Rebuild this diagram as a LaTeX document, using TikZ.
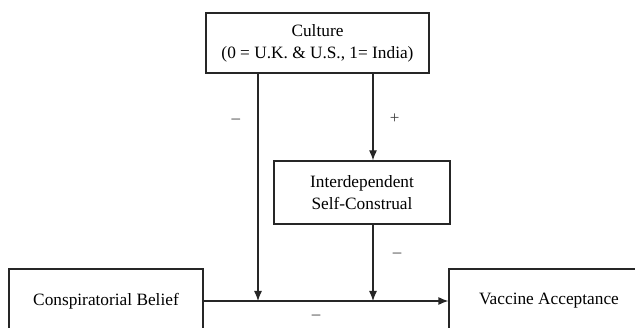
\documentclass[tikz,border=0pt]{standalone}
\usepackage{fontspec}
\setmainfont{Liberation Serif}
\usetikzlibrary{positioning,arrows.meta}
\tikzset{node distance=2cm, auto, x=1pt, y=1pt,
  >={Latex[length=10pt,width=8pt]},
  varbox/.style={draw=black!85, line width=1.2pt, inner sep=0pt, align=center,
    font=\fontsize{17.3}{22}\selectfont},
  path/.style={->, draw=black!85, line width=1.2pt},
  sign/.style={font=\fontsize{17}{20}\selectfont, text=black!75}}

\begin{document}
\begin{tikzpicture}
\useasboundingbox (0,0) rectangle (635,-328);
\node (culture) [varbox, minimum width=223pt, minimum height=60pt] at (317.5,-43) {Culture\\(0 = U.K. \& U.S., 1= India)};
\node (isc) [varbox, minimum width=176pt, minimum height=63pt, below of=culture, node distance=149.5pt, xshift=44.5pt] {Interdependent\\Self-Construal};
\node (belief) [varbox, minimum width=194pt, minimum height=64pt] at (106,-301) {Conspiratorial Belief};
\node (accept) [varbox, minimum width=200pt, minimum height=64pt, right of=belief, node distance=443pt] {Vaccine Acceptance};
\coordinate (cl) at ([xshift=-59.5pt]culture.south);
\coordinate (cr) at ([xshift=55.5pt]culture.south);
\draw[path] (belief) to node[sign, pos=.46, below=10pt] {–} (accept);
\draw[path] (cl) to node[sign, pos=.21, left=14pt] {–} (cl |- belief.east);
\draw[path] (cr) to node[sign, pos=.52, right=13pt] {+} (cr |- isc.north);
\draw[path] (cr |- isc.south) to node[sign, pos=.40, right=16pt] {–} (cr |- belief.east);
\end{tikzpicture}
\end{document}
